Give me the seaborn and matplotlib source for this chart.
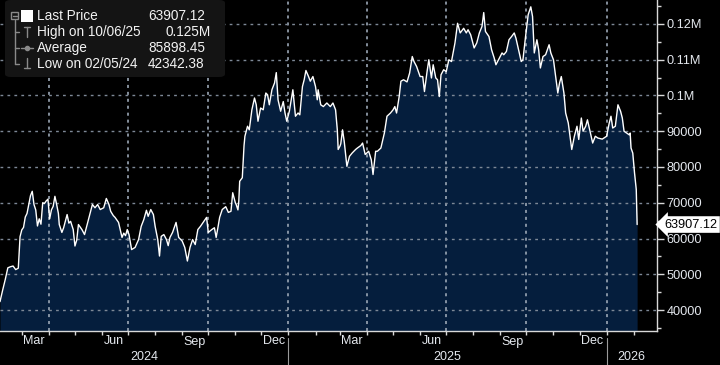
import numpy as np
import pandas as pd
import matplotlib
matplotlib.use("Agg")
import matplotlib.pyplot as plt
import matplotlib.dates as mdates
import seaborn as sns
from matplotlib.ticker import FuncFormatter, FixedLocator, MultipleLocator, NullFormatter
from matplotlib.transforms import blended_transform_factory
from matplotlib.patches import FancyBboxPatch, Rectangle
from matplotlib.lines import Line2D

# ---------------- data ----------------
dates = [
    "2024-02-05", "2024-02-08", "2024-02-11", "2024-02-14", "2024-02-17", "2024-02-20", "2024-02-23", "2024-02-26", "2024-02-28",
    "2024-03-01", "2024-03-03", "2024-03-05", "2024-03-07", "2024-03-09", "2024-03-11", "2024-03-13", "2024-03-15", "2024-03-17", "2024-03-19", "2024-03-21", "2024-03-23", "2024-03-25", "2024-03-27", "2024-03-29", "2024-03-31",
    "2024-04-02", "2024-04-04", "2024-04-06", "2024-04-08", "2024-04-10", "2024-04-12", "2024-04-13", "2024-04-16", "2024-04-18", "2024-04-20", "2024-04-22", "2024-04-24", "2024-04-26", "2024-04-29",
    "2024-05-01", "2024-05-03", "2024-05-05", "2024-05-07", "2024-05-09", "2024-05-12", "2024-05-15", "2024-05-18", "2024-05-21", "2024-05-24", "2024-05-27", "2024-05-30",
    "2024-06-03", "2024-06-06", "2024-06-09", "2024-06-11", "2024-06-14", "2024-06-16", "2024-06-20", "2024-06-24", "2024-06-26", "2024-06-28", "2024-06-30",
    "2024-07-02", "2024-07-05", "2024-07-07", "2024-07-09", "2024-07-13", "2024-07-16", "2024-07-19", "2024-07-22", "2024-07-24", "2024-07-27", "2024-07-30",
    "2024-08-01", "2024-08-04", "2024-08-06", "2024-08-08", "2024-08-11", "2024-08-14", "2024-08-16", "2024-08-18", "2024-08-21", "2024-08-25", "2024-08-28",
    "2024-09-01", "2024-09-04", "2024-09-07", "2024-09-10", "2024-09-13", "2024-09-16", "2024-09-19", "2024-09-22", "2024-09-26", "2024-09-29",
    "2024-10-01", "2024-10-05", "2024-10-08", "2024-10-10", "2024-10-12", "2024-10-14", "2024-10-17", "2024-10-21", "2024-10-24", "2024-10-27", "2024-10-29",
    "2024-11-01", "2024-11-02", "2024-11-04", "2024-11-05", "2024-11-06", "2024-11-09", "2024-11-11", "2024-11-12", "2024-11-15", "2024-11-17", "2024-11-20", "2024-11-23", "2024-11-25", "2024-11-27", "2024-11-30",
    "2024-12-03", "2024-12-06", "2024-12-08", "2024-12-10", "2024-12-13", "2024-12-16", "2024-12-18", "2024-12-20", "2024-12-23", "2024-12-26", "2024-12-28", "2024-12-30",
    "2025-01-02", "2025-01-06", "2025-01-09", "2025-01-12", "2025-01-14", "2025-01-17", "2025-01-19", "2025-01-21", "2025-01-24", "2025-01-26", "2025-01-29",
    "2025-02-01", "2025-02-03", "2025-02-04", "2025-02-07", "2025-02-10", "2025-02-14", "2025-02-18", "2025-02-21", "2025-02-24", "2025-02-26", "2025-02-27",
    "2025-03-01", "2025-03-02", "2025-03-04", "2025-03-06", "2025-03-09", "2025-03-12", "2025-03-15", "2025-03-19", "2025-03-21", "2025-03-25", "2025-03-27", "2025-03-30",
    "2025-04-03", "2025-04-06", "2025-04-08", "2025-04-11", "2025-04-13", "2025-04-17", "2025-04-21", "2025-04-24", "2025-04-28",
    "2025-05-01", "2025-05-03", "2025-05-05", "2025-05-08", "2025-05-10", "2025-05-13", "2025-05-17", "2025-05-20", "2025-05-23", "2025-05-25", "2025-05-28",
    "2025-06-01", "2025-06-04", "2025-06-06", "2025-06-09", "2025-06-11", "2025-06-14", "2025-06-16", "2025-06-19", "2025-06-21", "2025-06-23", "2025-06-25", "2025-06-28",
    "2025-07-01", "2025-07-04", "2025-07-07", "2025-07-11", "2025-07-14", "2025-07-17", "2025-07-21", "2025-07-24", "2025-07-26", "2025-07-29",
    "2025-08-02", "2025-08-05", "2025-08-08", "2025-08-11", "2025-08-13", "2025-08-15", "2025-08-19", "2025-08-22", "2025-08-25", "2025-08-27", "2025-08-31",
    "2025-09-03", "2025-09-05", "2025-09-08", "2025-09-11", "2025-09-14", "2025-09-17", "2025-09-19", "2025-09-22", "2025-09-25", "2025-09-27", "2025-09-30",
    "2025-10-03", "2025-10-06", "2025-10-08", "2025-10-10", "2025-10-13", "2025-10-15", "2025-10-17", "2025-10-20", "2025-10-23", "2025-10-27", "2025-10-29",
    "2025-11-01", "2025-11-04", "2025-11-06", "2025-11-08", "2025-11-10", "2025-11-13", "2025-11-15", "2025-11-18", "2025-11-20", "2025-11-22", "2025-11-25", "2025-11-28", "2025-11-30",
    "2025-12-03", "2025-12-05", "2025-12-08", "2025-12-10", "2025-12-13", "2025-12-16", "2025-12-19", "2025-12-22", "2025-12-27",
    "2026-01-01", "2026-01-04", "2026-01-06", "2026-01-08", "2026-01-11", "2026-01-14", "2026-01-17", "2026-01-19", "2026-01-21", "2026-01-24", "2026-01-27", "2026-01-28", "2026-01-29", "2026-01-31",
    "2026-02-02", "2026-02-04", "2026-02-05",
]

# prices in thousands of USD
prices_k = [
    42.34, 45.5, 48.5, 51.8, 52.1, 52.3, 51.3, 51.7, 60.5,
    62.4, 63.1, 66.0, 67.0, 69.5, 72.0, 73.2, 69.5, 68.0, 63.5, 65.5, 64.0, 70.0, 69.8, 70.5, 71.0,
    65.5, 68.0, 69.0, 71.8, 69.5, 67.0, 63.9, 61.7, 63.0, 64.8, 66.7, 64.3, 64.8, 62.5,
    57.9, 59.5, 63.9, 63.2, 62.5, 61.1, 63.9, 66.7, 69.5, 68.6, 69.5, 68.1,
    68.6, 71.2, 69.5, 67.6, 66.4, 65.9, 64.5, 60.3, 61.5, 60.8, 62.5,
    61.1, 56.9, 57.2, 57.5, 59.7, 63.4, 65.3, 67.9, 66.2, 68.1, 66.7,
    63.4, 59.7, 55.1, 60.6, 61.1, 59.7, 58.0, 60.3, 61.7, 64.5, 60.3,
    59.3, 57.5, 53.7, 57.5, 59.7, 58.3, 62.5, 63.4, 64.8, 65.9,
    61.7, 62.5, 63.0, 60.3, 63.0, 65.9, 68.1, 68.9, 67.3, 67.6, 72.8,
    70.0, 69.5, 68.0, 70.5, 76.0, 77.0, 86.0, 88.6, 91.4, 90.4, 96.0, 99.3, 97.4, 92.8, 96.5,
    96.0, 100.7, 100.2, 97.4, 101.6, 103.5, 106.4, 98.8, 95.6, 98.3, 95.1, 92.8,
    95.6, 101.6, 94.2, 95.1, 94.6, 102.5, 104.4, 107.0, 105.3, 104.0, 105.3,
    102.5, 98.8, 101.6, 97.4, 96.9, 97.9, 96.9, 97.9, 96.0, 90.4, 84.9,
    85.8, 86.5, 90.4, 87.0, 80.2, 83.0, 83.9, 84.9, 85.3, 86.0, 86.7, 83.5,
    84.4, 82.0, 77.9, 84.4, 84.4, 85.3, 89.5, 94.2, 95.1,
    96.0, 96.9, 95.1, 99.7, 104.0, 104.4, 103.8, 106.3, 110.9, 109.5, 108.1,
    105.3, 105.3, 101.1, 106.7, 110.0, 104.9, 108.6, 104.9, 104.4, 99.7, 105.8, 107.2,
    106.7, 110.0, 109.5, 114.7, 120.2, 117.5, 118.8, 117.5, 118.4, 117.0,
    113.3, 114.7, 117.5, 119.3, 123.2, 117.9, 116.5, 112.8, 110.5, 108.6, 110.5,
    111.9, 111.4, 112.3, 115.6, 116.5, 117.5, 116.0, 112.8, 109.5, 110.0, 116.5,
    122.6, 124.8, 122.1, 111.9, 115.6, 112.8, 107.7, 110.9, 111.4, 114.2, 111.9,
    110.0, 104.4, 100.7, 103.5, 105.3, 100.7, 95.1, 92.3, 88.6, 84.9, 88.6, 91.4, 87.7,
    93.7, 90.0, 91.4, 93.2, 90.0, 86.7, 88.6, 88.1, 87.8,
    88.6, 92.3, 94.2, 90.9, 91.4, 97.4, 95.6, 93.7, 90.0, 89.5, 89.0, 89.5, 85.3, 83.9,
    78.4, 73.7, 63.90712,
]

legend_labels = ["Last Price", "High on 10/06/25", "Average", "Low on 02/05/24"]
legend_values = ["63907.12", "0.125M", "85898.45", "42342.38"]
last_price_label = "63907.12"
month_label_months = [3, 6, 9, 12]
y_ticks = [40000, 50000, 60000, 70000, 80000, 90000, 100000, 110000, 120000]

assert len(dates) == len(prices_k)
df = pd.DataFrame({"date": pd.to_datetime(dates), "price": np.array(prices_k) * 1000.0})

# ---------------- style ----------------
sns.set_style("dark")
plt.rcParams["font.family"] = ["Liberation Sans", "DejaVu Sans"]
plt.rcParams["lines.scale_dashes"] = False
W, H = 720, 365
fig = plt.figure(figsize=(W / 100, H / 100), dpi=100, facecolor="black")
ax = fig.add_axes([0, 34 / H, 657 / W, 331 / H])
ax.set_facecolor("black")

FILL = "#051e3d"
GRID = "#7d8896"
VGRID = "#9aa6b5"
TXT = "#e4e8ee"
SPINE = "#d8d8d8"

ymin, ymax = 34126, 126713
ax.fill_between(df["date"], df["price"], ymin, color=FILL, lw=0, zorder=1)
sns.lineplot(data=df, x="date", y="price", ax=ax, color="white", lw=1.0, zorder=4)

xmin = pd.Timestamp("2024-02-05")
xmax = xmin + pd.Timedelta(days=753.8)
ax.set_xlim(xmin, xmax)
ax.set_ylim(ymin, ymax)
ax.set_xlabel("")
ax.set_ylabel("")

# spines
for s in ["top", "left"]:
    ax.spines[s].set_visible(False)
for s in ["right", "bottom"]:
    ax.spines[s].set_visible(True)
    ax.spines[s].set_color(SPINE)
    ax.spines[s].set_linewidth(1.0)
    ax.spines[s].set_zorder(6)

# y axis on right
ax.yaxis.tick_right()
ax.yaxis.set_major_locator(FixedLocator(y_ticks))
ax.yaxis.set_minor_locator(MultipleLocator(5000))

def yfmt(v, pos):
    if v >= 100000:
        s = f"{v / 1e6:.2f}".rstrip("0")
        return s + "M"
    return f"{int(v)}"

ax.yaxis.set_major_formatter(FuncFormatter(yfmt))
ax.tick_params(axis="y", which="major", direction="out", length=5, width=1.0,
               color=SPINE, labelcolor=TXT, labelsize=9.2, pad=2, right=True, left=False)
ax.tick_params(axis="y", which="minor", direction="out", length=3, width=1.0,
               color=SPINE, right=True, left=False)

# x axis: quarter-start major ticks, monthly minor ticks
ax.xaxis.set_major_locator(mdates.MonthLocator(bymonth=[1, 4, 7, 10]))
ax.xaxis.set_major_formatter(NullFormatter())
ax.xaxis.set_minor_locator(mdates.MonthLocator())
ax.xaxis.set_minor_formatter(NullFormatter())
ax.tick_params(axis="x", which="both", direction="out", length=3, width=1.0, color=SPINE, bottom=True)

# grid lines (above the fill)
ax.set_axisbelow(False)
ax.grid(True, which="major", axis="y", color=GRID, lw=1.0, linestyle=(0, (2, 3)))
ax.grid(True, which="major", axis="x", color=VGRID, lw=1.2, linestyle=(0, (2.2, 2.8)))
ax.grid(False, which="minor")

# month labels at mid-month
btrans = blended_transform_factory(ax.transData, fig.transFigure)
for m in pd.date_range("2024-01-15", "2026-12-15", freq="MS") + pd.Timedelta(days=14):
    if m.month in month_label_months and xmin <= m <= xmax:
        ax.text(m, (H - 341.5) / H, m.strftime("%b"), transform=btrans, ha="center", va="center",
                fontsize=9, color=TXT)

# year row
for yr in [2024, 2025, 2026]:
    a = max(pd.Timestamp(f"{yr}-01-01"), xmin)
    b = min(pd.Timestamp(f"{yr + 1}-01-01"), xmax)
    mid = a + (b - a) / 2
    ax.text(mid, (H - 356.5) / H, str(yr), transform=btrans, ha="center", va="center",
            fontsize=9, color=TXT)
for yr in [2025, 2026]:
    ax.add_line(Line2D([pd.Timestamp(f"{yr}-01-01")] * 2, [(H - 338) / H, 0],
                       transform=btrans, color="#9a9a9a", lw=0.8, clip_on=False))

# last price tag
ytrans = blended_transform_factory(ax.transAxes, ax.transData)
ax.annotate(last_price_label, xy=(1.0, df["price"].iloc[-1]), xycoords=ytrans,
            xytext=(5.3, 0), textcoords="offset points", ha="left", va="center",
            fontsize=9.2, color="black", zorder=10, annotation_clip=False,
            bbox=dict(boxstyle="larrow,pad=0.18", fc="white", ec="none"))

# legend box (top-left)
def fx(x):
    return x / W

def fy(y):
    return 1 - y / H

fig.add_artist(FancyBboxPatch((fx(5), fy(77)), fx(220), 77 / H,
                              boxstyle="round,pad=0,rounding_size=0.008",
                              transform=fig.transFigure, fc="#141414", ec="none", zorder=20))
rows_y = [15.7, 32.0, 48.0, 63.5]
val_x = [148, 166, 148, 148]
for lab, val, ry, vx in zip(legend_labels, legend_values, rows_y, val_x):
    fig.text(fx(37), fy(ry), lab, ha="left", va="center", fontsize=9.8, color="#f2f2f2", zorder=22)
    fig.text(fx(vx), fy(ry), val, ha="left", va="center", fontsize=9.8, color="#f2f2f2", zorder=22)

IC = "#8a8a8a"
def fl(xs, ys, **kw):
    fig.add_artist(Line2D([fx(x) for x in xs], [fy(y) for y in ys], transform=fig.transFigure,
                          color=IC, lw=kw.get("lw", 1.0), zorder=23))

# collapse box and tree
fig.add_artist(Rectangle((fx(11), fy(19)), fx(7), 7 / H, transform=fig.transFigure,
                         fc="none", ec=IC, lw=1.0, zorder=23))
fl([12.5, 16.5], [15.5, 15.5])
fl([14.5, 14.5], [19.5, 63.5])
for ry in rows_y[1:]:
    fl([14.5, 19], [ry, ry])
# white square for Last Price
fig.add_artist(Rectangle((fx(21), fy(22)), fx(12), 12 / H, transform=fig.transFigure,
                         fc="white", ec="none", zorder=23))
# high icon
fl([27, 27], [27, 37]); fl([24, 30], [27, 27])
# average icon
fl([21, 33], [48, 48])
fig.add_artist(Line2D([fx(27)], [fy(48)], marker="o", ms=3, color=IC, transform=fig.transFigure, zorder=23))
# low icon
fl([27, 27], [58, 68]); fl([24, 30], [68, 68])

fig.savefig("out.png", dpi=100, facecolor="black")
